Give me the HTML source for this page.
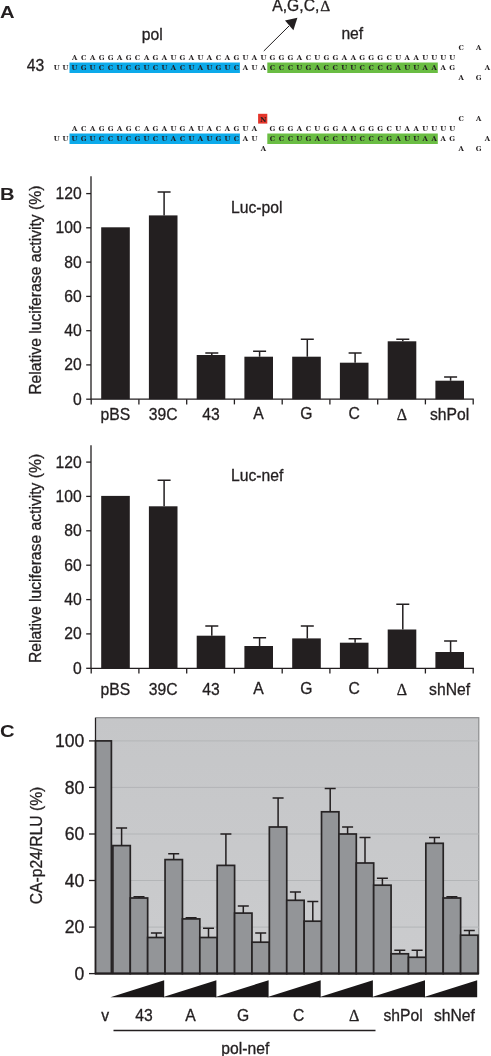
<!DOCTYPE html>
<html lang="en">
<head>
<meta charset="utf-8">
<title>Figure</title>
<style>
html,body{margin:0;padding:0;background:#fff;}
body{width:491px;height:1056px;overflow:hidden;}
svg{display:block;}
.s{font-family:"DejaVu Serif","Liberation Serif",serif;font-weight:bold;font-size:6.8px;text-anchor:middle;fill:#231f20;}
.t{font-family:"Liberation Sans",sans-serif;font-size:15.7px;fill:#231f20;stroke:#231f20;stroke-width:0.3px;}
.tl{text-anchor:end;}
.tm{text-anchor:middle;}
.dl{font-family:"Liberation Serif",serif;font-size:16px;}
.yl{text-anchor:middle;font-size:15.7px;}
.pl{font-family:"Liberation Sans",sans-serif;font-weight:bold;font-size:17.4px;fill:#231f20;}
.ax{stroke:#231f20;stroke-width:1.3;fill:none;}
.eb{stroke:#231f20;stroke-width:1.5;fill:none;}
.cb{fill:#939598;stroke:#262324;stroke-width:1.7;}
.ce{stroke:#231f20;stroke-width:1.5;fill:none;}
.g{stroke:#b3b5b7;stroke-width:1;fill:none;}
</style>
</head>
<body>
<svg width="491" height="1056" viewBox="0 0 491 1056">
<rect width="491" height="1056" fill="#fff"/>

<text class="pl" transform="translate(0 18.3) scale(1.16 1)">A</text>
<text class="t tm" x="152.3" y="39.9">pol</text>
<text class="t tm" x="352.3" y="39.2">nef</text>
<text class="t" x="272.3" y="11.4">A,G,C,<tspan class="dl" dx="0.8" style="font-size:15.5px">Δ</tspan></text>
<text class="t" x="26.7" y="71.1">43</text>
<path d="M263.8 51L289 26" stroke="#231f20" stroke-width="1" fill="none"/>
<path d="M297.4 17.8L293.4 30.2L285 20.6Z" fill="#231f20"/>
<rect x="69.5" y="62.5" width="170.4" height="10.5" fill="#0caaea"/>
<rect x="267.3" y="62.5" width="170.5" height="10.5" fill="#6abd43"/>
<text class="s" y="60.4" x="74.60 83.59 92.58 101.57 110.56 119.55 128.54 137.53 146.52 155.51 164.50 173.49 182.48 191.47 200.46 209.45 218.44 227.43 236.42 245.41 254.40 263.39 272.38 281.37 290.36 299.35 308.34 317.33 326.32 335.31 344.30 353.29 362.28 371.27 380.26 389.25 398.24 407.23 416.22 425.21 434.20 443.19 452.18">ACAGGAGCAGAUGAUACAGUAUGGGACUGGAAGGGCUAAUUUU</text>
<text class="s" y="69.8" x="56.60 65.59 74.58 83.57 92.56 101.55 110.54 119.53 128.52 137.51 146.50 155.49 164.48 173.47 182.46 191.45 200.44 209.43 218.42 227.41 236.40 245.39 254.38 263.37 272.36 281.35 290.34 299.33 308.32 317.31 326.30 335.29 344.28 353.27 362.26 371.25 380.24 389.23 398.22 407.21 416.20 425.19 434.18 443.17 452.16">UUUGUCCUCGUCUACUAUGUCAUACCCUGACCUUCCCGAUUAAAG</text>
<text class="s" y="50.4" x="461.20 478.60">CA</text>
<text class="s" y="69.5" x="487.40">A</text>
<text class="s" y="80.0" x="461.20 478.60">AG</text>
<rect x="69.5" y="133.5" width="170.4" height="10.5" fill="#0caaea"/>
<rect x="267.3" y="133.5" width="170.5" height="10.5" fill="#6abd43"/>
<text class="s" y="131.4" x="74.60 83.59 92.58 101.57 110.56 119.55 128.54 137.53 146.52 155.51 164.50 173.49 182.48 191.47 200.46 209.45 218.44 227.43 236.42 245.41 254.40 272.38 281.37 290.36 299.35 308.34 317.33 326.32 335.31 344.30 353.29 362.28 371.27 380.26 389.25 398.24 407.23 416.22 425.21 434.20 443.19 452.18">ACAGGAGCAGAUGAUACAGUAGGGACUGGAAGGGCUAAUUUU</text>
<text class="s" y="140.8" x="56.60 65.59 74.58 83.57 92.56 101.55 110.54 119.53 128.52 137.51 146.50 155.49 164.48 173.47 182.46 191.45 200.44 209.43 218.42 227.41 236.40 245.39 254.38 272.36 281.35 290.34 299.33 308.32 317.31 326.30 335.29 344.28 353.27 362.26 371.25 380.24 389.23 398.22 407.21 416.20 425.19 434.18 443.17 452.16">UUUGUCCUCGUCUACUAUGUCAUCCCUGACCUUCCCGAUUAAAG</text>
<text class="s" y="121.4" x="461.20 478.60">CA</text>
<text class="s" y="140.5" x="487.40">A</text>
<text class="s" y="151.0" x="461.20 478.60">AG</text>
<rect x="258.1" y="113.8" width="9.2" height="9.8" fill="#e5352b"/>
<text class="s" y="122.0" x="263.30">N</text>
<text class="s" y="150.6" x="263.50">A</text>
<text class="pl" transform="translate(0 200.3) scale(1.16 1)">B</text>
<rect x="101.2" y="227.3" width="28.6" height="171.9" fill="#231f20"/>
<rect x="148.9" y="215.4" width="28.6" height="183.8" fill="#231f20"/>
<path d="M164.1 215.4V191.9M157.6 191.9H170.6" class="eb"/>
<rect x="196.7" y="355.0" width="28.6" height="44.2" fill="#231f20"/>
<path d="M211.8 355.0V352.9M205.3 352.9H218.3" class="eb"/>
<rect x="244.4" y="356.7" width="28.6" height="42.5" fill="#231f20"/>
<path d="M259.6 356.7V351.2M253.1 351.2H266.1" class="eb"/>
<rect x="292.2" y="356.7" width="28.6" height="42.5" fill="#231f20"/>
<path d="M307.3 356.7V339.2M300.8 339.2H313.8" class="eb"/>
<rect x="339.9" y="362.7" width="28.6" height="36.5" fill="#231f20"/>
<path d="M355.1 362.7V352.9M348.6 352.9H361.6" class="eb"/>
<rect x="387.7" y="341.3" width="28.6" height="57.9" fill="#231f20"/>
<path d="M402.8 341.3V339.2M396.3 339.2H409.3" class="eb"/>
<rect x="435.4" y="380.7" width="28.6" height="18.5" fill="#231f20"/>
<path d="M450.6 380.7V376.9M444.1 376.9H457.1" class="eb"/>
<path d="M91.0 176.2V399.2H473.8" class="ax"/>
<path d="M86.2 399.2H91.0" class="ax"/>
<text class="t tl" x="81.8" y="404.7">0</text>
<path d="M86.2 364.9H91.0" class="ax"/>
<text class="t tl" x="81.8" y="370.4">20</text>
<path d="M86.2 330.7H91.0" class="ax"/>
<text class="t tl" x="81.8" y="336.2">40</text>
<path d="M86.2 296.4H91.0" class="ax"/>
<text class="t tl" x="81.8" y="301.9">60</text>
<path d="M86.2 262.1H91.0" class="ax"/>
<text class="t tl" x="81.8" y="267.6">80</text>
<path d="M86.2 227.8H91.0" class="ax"/>
<text class="t tl" x="81.8" y="233.3">100</text>
<path d="M86.2 193.6H91.0" class="ax"/>
<text class="t tl" x="81.8" y="199.1">120</text>
<path d="M91.2 399.2V404.4" class="ax"/>
<path d="M138.9 399.2V404.4" class="ax"/>
<path d="M186.7 399.2V404.4" class="ax"/>
<path d="M234.4 399.2V404.4" class="ax"/>
<path d="M282.2 399.2V404.4" class="ax"/>
<path d="M329.9 399.2V404.4" class="ax"/>
<path d="M377.7 399.2V404.4" class="ax"/>
<path d="M425.4 399.2V404.4" class="ax"/>
<path d="M473.2 399.2V404.4" class="ax"/>
<text class="t tm" x="115.4" y="420.1">pBS</text>
<text class="t tm" x="163.2" y="420.1">39C</text>
<text class="t tm" x="210.9" y="420.1">43</text>
<text class="t tm" x="258.6" y="418.6">A</text>
<text class="t tm" x="306.4" y="418.6">G</text>
<text class="t tm" x="354.1" y="418.6">C</text>
<text class="t tm dl" x="401.9" y="420.1">Δ</text>
<text class="t tm" x="449.6" y="420.1">shPol</text>
<text class="t" x="231" y="213.3">Luc-pol</text>
<text class="t yl" transform="translate(40.5 290.2) rotate(-90)">Relative luciferase activity (%)</text>
<rect x="101.2" y="495.9" width="28.6" height="172.3" fill="#231f20"/>
<rect x="148.9" y="506.3" width="28.6" height="162.0" fill="#231f20"/>
<path d="M164.1 506.3V480.3M157.6 480.3H170.6" class="eb"/>
<rect x="196.7" y="635.7" width="28.6" height="32.6" fill="#231f20"/>
<path d="M211.8 635.7V625.9M205.3 625.9H218.3" class="eb"/>
<rect x="244.4" y="646.0" width="28.6" height="22.3" fill="#231f20"/>
<path d="M259.6 646.0V637.7M253.1 637.7H266.1" class="eb"/>
<rect x="292.2" y="638.4" width="28.6" height="29.9" fill="#231f20"/>
<path d="M307.3 638.4V626.0M300.8 626.0H313.8" class="eb"/>
<rect x="339.9" y="642.7" width="28.6" height="25.6" fill="#231f20"/>
<path d="M355.1 642.7V638.7M348.6 638.7H361.6" class="eb"/>
<rect x="387.7" y="629.5" width="28.6" height="38.8" fill="#231f20"/>
<path d="M402.8 629.5V604.2M396.3 604.2H409.3" class="eb"/>
<rect x="435.4" y="652.0" width="28.6" height="16.3" fill="#231f20"/>
<path d="M450.6 652.0V641.1M444.1 641.1H457.1" class="eb"/>
<path d="M91.0 445.3V668.3H473.8" class="ax"/>
<path d="M86.2 668.3H91.0" class="ax"/>
<text class="t tl" x="81.8" y="673.8">0</text>
<path d="M86.2 633.9H91.0" class="ax"/>
<text class="t tl" x="81.8" y="639.4">20</text>
<path d="M86.2 599.6H91.0" class="ax"/>
<text class="t tl" x="81.8" y="605.1">40</text>
<path d="M86.2 565.2H91.0" class="ax"/>
<text class="t tl" x="81.8" y="570.7">60</text>
<path d="M86.2 530.8H91.0" class="ax"/>
<text class="t tl" x="81.8" y="536.3">80</text>
<path d="M86.2 496.4H91.0" class="ax"/>
<text class="t tl" x="81.8" y="501.9">100</text>
<path d="M86.2 462.1H91.0" class="ax"/>
<text class="t tl" x="81.8" y="467.6">120</text>
<path d="M91.2 668.3V673.5" class="ax"/>
<path d="M138.9 668.3V673.5" class="ax"/>
<path d="M186.7 668.3V673.5" class="ax"/>
<path d="M234.4 668.3V673.5" class="ax"/>
<path d="M282.2 668.3V673.5" class="ax"/>
<path d="M329.9 668.3V673.5" class="ax"/>
<path d="M377.7 668.3V673.5" class="ax"/>
<path d="M425.4 668.3V673.5" class="ax"/>
<path d="M473.2 668.3V673.5" class="ax"/>
<text class="t tm" x="115.4" y="695.0">pBS</text>
<text class="t tm" x="163.2" y="695.0">39C</text>
<text class="t tm" x="210.9" y="695.0">43</text>
<text class="t tm" x="258.6" y="693.5">A</text>
<text class="t tm" x="306.4" y="693.5">G</text>
<text class="t tm" x="354.1" y="693.5">C</text>
<text class="t tm dl" x="401.9" y="695.0">Δ</text>
<text class="t tm" x="449.6" y="695.0">shNef</text>
<text class="t" x="231" y="481.4">Luc-nef</text>
<text class="t yl" transform="translate(40.5 558.4) rotate(-90)">Relative luciferase activity (%)</text>
<text class="pl" transform="translate(0 736.9) scale(1.16 1)">C</text>
<defs><linearGradient id="bg" x1="0" y1="0" x2="0" y2="1"><stop offset="0" stop-color="#c5c6c8"/><stop offset="1" stop-color="#cbccce"/></linearGradient></defs>
<rect x="95.5" y="717.7" width="383.3" height="255.9" fill="url(#bg)" stroke="#8a8b8d" stroke-width="1.2"/>
<path d="M95.5 927.1H478.8" class="g"/>
<path d="M95.5 880.5H478.8" class="g"/>
<path d="M95.5 834.0H478.8" class="g"/>
<path d="M95.5 787.4H478.8" class="g"/>
<path d="M95.5 740.9H478.8" class="g"/>
<rect x="95.50" y="740.9" width="15.89" height="232.7" class="cb"/>
<rect x="112.89" y="845.6" width="17.39" height="128.0" class="cb"/>
<path d="M121.6 845.6V828.1M116.1 828.1H127.1" class="ce"/>
<rect x="130.27" y="898.0" width="17.39" height="75.6" class="cb"/>
<path d="M139.0 898.0V896.8M133.5 896.8H144.5" class="ce"/>
<rect x="147.66" y="937.5" width="17.39" height="36.1" class="cb"/>
<path d="M156.4 937.5V932.9M150.9 932.9H161.9" class="ce"/>
<rect x="165.05" y="859.6" width="17.39" height="114.0" class="cb"/>
<path d="M173.7 859.6V853.7M168.2 853.7H179.2" class="ce"/>
<rect x="182.43" y="918.9" width="17.39" height="54.7" class="cb"/>
<path d="M191.1 918.9V917.7M185.6 917.7H196.6" class="ce"/>
<rect x="199.82" y="937.5" width="17.39" height="36.1" class="cb"/>
<path d="M208.5 937.5V928.2M203.0 928.2H214.0" class="ce"/>
<rect x="217.20" y="865.4" width="17.39" height="108.2" class="cb"/>
<path d="M225.9 865.4V834.0M220.4 834.0H231.4" class="ce"/>
<rect x="234.59" y="913.1" width="17.39" height="60.5" class="cb"/>
<path d="M243.3 913.1V906.1M237.8 906.1H248.8" class="ce"/>
<rect x="251.98" y="942.2" width="17.39" height="31.4" class="cb"/>
<path d="M260.7 942.2V932.9M255.2 932.9H266.2" class="ce"/>
<rect x="269.36" y="827.0" width="17.39" height="146.6" class="cb"/>
<path d="M278.1 827.0V797.9M272.6 797.9H283.6" class="ce"/>
<rect x="286.75" y="900.3" width="17.39" height="73.3" class="cb"/>
<path d="M295.4 900.3V892.1M289.9 892.1H300.9" class="ce"/>
<rect x="304.14" y="921.2" width="17.39" height="52.4" class="cb"/>
<path d="M312.8 921.2V901.4M307.3 901.4H318.3" class="ce"/>
<rect x="321.52" y="811.8" width="17.39" height="161.8" class="cb"/>
<path d="M330.2 811.8V788.6M324.7 788.6H335.7" class="ce"/>
<rect x="338.91" y="834.0" width="17.39" height="139.6" class="cb"/>
<path d="M347.6 834.0V827.0M342.1 827.0H353.1" class="ce"/>
<rect x="356.30" y="863.0" width="17.39" height="110.6" class="cb"/>
<path d="M365.0 863.0V837.4M359.5 837.4H370.5" class="ce"/>
<rect x="373.68" y="885.2" width="17.39" height="88.4" class="cb"/>
<path d="M382.4 885.2V878.2M376.9 878.2H387.9" class="ce"/>
<rect x="391.07" y="953.8" width="17.39" height="19.8" class="cb"/>
<path d="M399.8 953.8V950.3M394.3 950.3H405.3" class="ce"/>
<rect x="408.45" y="957.3" width="17.39" height="16.3" class="cb"/>
<path d="M417.1 957.3V950.3M411.6 950.3H422.6" class="ce"/>
<rect x="425.84" y="843.3" width="17.39" height="130.3" class="cb"/>
<path d="M434.5 843.3V837.4M429.0 837.4H440.0" class="ce"/>
<rect x="443.23" y="898.0" width="17.39" height="75.6" class="cb"/>
<path d="M451.9 898.0V896.8M446.4 896.8H457.4" class="ce"/>
<rect x="460.61" y="935.2" width="17.39" height="38.4" class="cb"/>
<path d="M469.3 935.2V930.5M463.8 930.5H474.8" class="ce"/>
<path d="M95.5 718.0V973.6" stroke="#231f20" stroke-width="1.2"/>
<path d="M94.9 973.6H478.8" stroke="#231f20" stroke-width="2"/>
<path d="M89.0 973.6H95.5" class="ax"/>
<text class="t tl" x="84.3" y="979.8" style="font-size:17.6px">0</text>
<path d="M89.0 927.1H95.5" class="ax"/>
<text class="t tl" x="84.3" y="933.3" style="font-size:17.6px">20</text>
<path d="M89.0 880.5H95.5" class="ax"/>
<text class="t tl" x="84.3" y="886.7" style="font-size:17.6px">40</text>
<path d="M89.0 834.0H95.5" class="ax"/>
<text class="t tl" x="84.3" y="840.2" style="font-size:17.6px">60</text>
<path d="M89.0 787.4H95.5" class="ax"/>
<text class="t tl" x="84.3" y="793.6" style="font-size:17.6px">80</text>
<path d="M89.0 740.9H95.5" class="ax"/>
<text class="t tl" x="84.3" y="747.1" style="font-size:17.6px">100</text>
<text class="t" text-anchor="middle" transform="translate(41.7 845.5) rotate(-90)">CA-p24/RLU (%)</text>
<path d="M110.4 997.2L164.2 980.2V997.2Z" fill="#1a1718"/>
<path d="M162.5 997.2L216.4 980.2V997.2Z" fill="#1a1718"/>
<path d="M214.7 997.2L268.6 980.2V997.2Z" fill="#1a1718"/>
<path d="M266.9 997.2L320.7 980.2V997.2Z" fill="#1a1718"/>
<path d="M319.0 997.2L372.9 980.2V997.2Z" fill="#1a1718"/>
<path d="M371.2 997.2L425.0 980.2V997.2Z" fill="#1a1718"/>
<path d="M423.3 997.2L477.2 980.2V997.2Z" fill="#1a1718"/>
<text class="t tm" x="105.2" y="1020.7">v</text>
<text class="t tm" x="144.1" y="1021.4">43</text>
<text class="t tm" x="190.5" y="1020.7">A</text>
<text class="t tm" x="243.1" y="1021.2">G</text>
<text class="t tm" x="298.6" y="1021.2">C</text>
<text class="t tm dl" x="354.2" y="1020.7">Δ</text>
<text class="t tm" x="403.0" y="1020.7">shPol</text>
<text class="t tm" x="454.4" y="1020.7">shNef</text>
<path d="M113.5 1030.5H375.5" class="ax"/>
<text class="t tm" x="245.3" y="1053.8">pol-nef</text>
</svg>
</body>
</html>
